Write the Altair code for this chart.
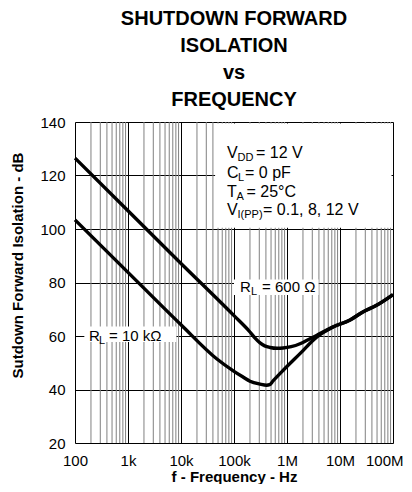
import altair as alt
import pandas as pd

FONT = "Liberation Sans"

# ---- data ----
freq_600 = [100, 1e3, 1e4, 1e5, 2e5, 2.5e5, 3.1e5, 3.8e5, 4.8e5, 6.5e5, 8.4e5, 1.2e6, 1.76e6, 2.5e6,
            3.6e6, 7.4e6, 1.55e7, 2.7e7, 4.9e7, 1e8]
db_600 = [126.5, 106.8, 87.1, 67.6, 61.5, 59.2, 57.4, 56.3, 55.7, 55.4, 55.5, 56.0, 57.1, 58.6,
          60.2, 63.4, 66.0, 69.0, 71.5, 75.5]

freq_10k = [100, 1e3, 1e4, 4.7e4, 1e5, 1.5e5, 2e5, 3.1e5, 4.14e5, 4.7e5, 5.45e5, 8.41e5, 1.76e6,
            3.63e6, 4.8e6, 7.4e6, 1.55e7, 2.7e7, 4.9e7, 1e8]
db_10k = [103.4, 83.8, 64.2, 51.5, 46.8, 44.6, 43.1, 42.0, 41.6, 41.8, 43.2, 47.1, 53.4,
          59.6, 61.3, 63.4, 66.0, 69.0, 71.5, 75.5]

x_ticks = [100, 1e3, 1e4, 1e5, 1e6, 1e7, 1e8]
y_ticks = [20, 40, 60, 80, 100, 120, 140]
minor_grid = [k * 10 ** n for n in range(2, 8) for k in range(2, 10)]

title_lines = ["SHUTDOWN FORWARD", "ISOLATION", "vs", "FREQUENCY"]
x_title = "f - Frequency - Hz"
y_title = "Sutdown Forward Isolation - dB"

# ---- shared encodings ----
x_scale = alt.Scale(type="log", domain=[100, 1e8], nice=False)
y_scale = alt.Scale(domain=[20, 140], nice=False, zero=False)

x_axis = alt.Axis(
    values=x_ticks, title=x_title, ticks=False, domain=False,
    labelExpr="datum.value >= 1e6 ? round(datum.value/1e6) + 'M' : datum.value >= 1e3 ? round(datum.value/1e3) + 'k' : '' + datum.value",
    labelFlush=False, labelOverlap=False, labelFontSize=15, labelFont=FONT, labelColor="black",
    labelAlign={"condition": {"test": "datum.value >= 1e8", "value": "right"}, "value": "center"},
    labelOffset={"condition": {"test": "datum.value >= 1e8", "value": 10}, "value": 0},
    labelPadding=10, grid=True, gridColor="black", gridWidth=1, gridOpacity=1,
    titleFont=FONT, titleFontSize=15, titleFontWeight="bold", titleColor="black", titlePadding=1,
)
y_axis = alt.Axis(
    values=y_ticks, title=y_title, ticks=False, domain=False,
    labelFontSize=15, labelFont=FONT, labelColor="black", labelPadding=10,
    grid=True, gridColor="black", gridWidth=1, gridOpacity=1,
    titleFont=FONT, titleFontSize=15, titleFontWeight="bold", titleColor="black",
    titleAngle=-90, titleX=-58, titleY=143, titleAlign="center", titleBaseline="middle",
)


def X(field="f"):
    return alt.X(f"{field}:Q", scale=x_scale, axis=x_axis)


def Y(field="db"):
    return alt.Y(f"{field}:Q", scale=y_scale, axis=y_axis)


# minor vertical grid
minor = alt.Chart(pd.DataFrame({"f": minor_grid})).mark_rule(
    color="#808080", strokeWidth=1
).encode(x=X())

# curves
curves_df = pd.concat([
    pd.DataFrame({"f": freq_600, "db": db_600, "s": "600"}),
    pd.DataFrame({"f": freq_10k, "db": db_10k, "s": "10k"}),
])
curves = alt.Chart(curves_df).mark_line(
    color="black", strokeWidth=3.4, interpolate="monotone"
).encode(x=X(), y=Y(), detail="s:N")

# white boxes behind annotations (box corners in data units)
boxes_df = pd.DataFrame({
    "f": [4.4e4, 1.0e5, 150],
    "f2": [1e8, 4.2e6, 8.7e3],
    "db": [140, 81.7, 64.1],
    "db2": [100.5, 75.3, 57.8],
})
boxes = alt.Chart(boxes_df).mark_rect(
    color="white", x2Offset=-1.5, yOffset=1.5
).encode(x=X(), x2="f2:Q", y=Y(), y2="db2:Q")


def label(parts, f, db, size=15):
    layers = []
    for text, dx, sub in parts:
        layers.append(
            alt.Chart(pd.DataFrame({"f": [f], "db": [db], "t": [text]})).mark_text(
                align="left", baseline="middle", dx=dx, dy=5 if sub else 0,
                fontSize=11 if sub else size, font=FONT, color="black",
            ).encode(x=X(), y=Y(), text="t:N")
        )
    return layers


texts = []
texts += label([("V", 0, False), ("DD", 10.5, True), ("= 12 V", 29, False)], 7.38e4, 128.3, 16)
texts += label([("C", 0, False), ("L", 11, True), ("= 0 pF", 18, False)], 7.38e4, 121.1, 16)
texts += label([("T", 0, False), ("A", 9.5, True), ("= 25°C", 19.5, False)], 7.38e4, 113.9, 16)
texts += label([("V", 0, False), ("I(PP)", 10.5, True), ("= 0.1, 8, 12 V", 36, False)], 7.38e4, 107.2, 16)
texts += label([("R", 0, False), ("L", 11, True), ("= 600 Ω", 22, False)], 1.3e5, 78.3)
texts += label([("R", 0, False), ("L", 10, True), ("= 10 kΩ", 20, False)], 184, 60)

chart = alt.layer(minor, boxes, curves, *texts).properties(
    width=318, height=321,
    padding={"left": 67, "top": 114, "right": 11, "bottom": 41},
    autosize=alt.AutoSizeParams(type="none"),
    title=alt.TitleParams(
        text=title_lines, font=FONT, fontSize=20, fontWeight="bold", color="black",
        anchor="middle", lineHeight=27, offset=5,
    ),
).configure_view(
    stroke="black", strokeWidth=3
).configure(background="white")

chart.save("out.html", embed_options={"renderer": "svg", "actions": False})
